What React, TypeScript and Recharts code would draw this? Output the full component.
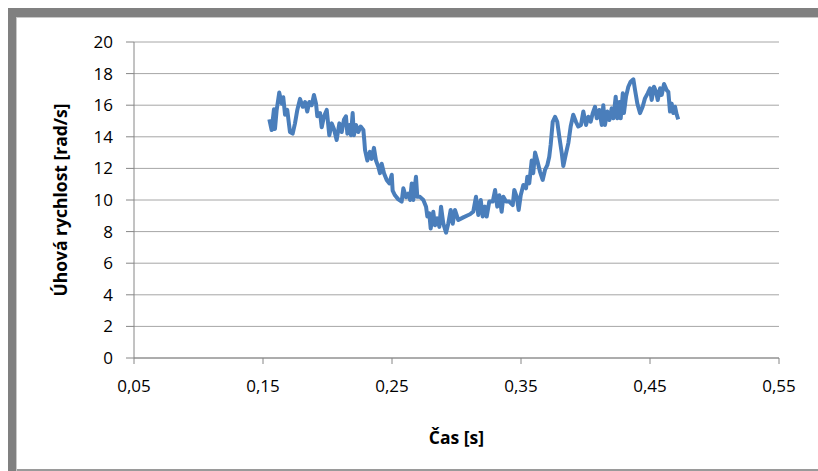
import React from 'react';
import { LineChart, Line, XAxis, YAxis, CartesianGrid, Label } from 'recharts';

// time [s]
const times: number[] = [
  0.1549, 0.1567, 0.1585, 0.1593, 0.1606, 0.1626, 0.1645, 0.1657, 0.1671, 0.1688,
  0.1709, 0.1730, 0.1748, 0.1766, 0.1787, 0.1808, 0.1826, 0.1843, 0.1859, 0.1878,
  0.1895, 0.1911, 0.1921, 0.1942, 0.1955, 0.1973, 0.1994, 0.2014, 0.2033, 0.2050,
  0.2071, 0.2092, 0.2110, 0.2128, 0.2143, 0.2154, 0.2169, 0.2182, 0.2195, 0.2205,
  0.2221, 0.2239, 0.2257, 0.2278, 0.2285, 0.2291, 0.2309, 0.2329, 0.2343, 0.2360,
  0.2376, 0.2394, 0.2407, 0.2420, 0.2438, 0.2459, 0.2479, 0.2498, 0.2505, 0.2523,
  0.2549, 0.2575, 0.2588, 0.2609, 0.2626, 0.2640, 0.2653, 0.2665, 0.2686, 0.2696,
  0.2717, 0.2743, 0.2764, 0.2774, 0.2789, 0.2800, 0.2820, 0.2833, 0.2851, 0.2867,
  0.2880, 0.2898, 0.2919, 0.2936, 0.2955, 0.2971, 0.2988, 0.3014, 0.3053, 0.3092,
  0.3105, 0.3130, 0.3151, 0.3169, 0.3188, 0.3203, 0.3221, 0.3234, 0.3254, 0.3281,
  0.3299, 0.3316, 0.3332, 0.3350, 0.3363, 0.3384, 0.3409, 0.3436, 0.3448, 0.3467,
  0.3482, 0.3498, 0.3518, 0.3539, 0.3549, 0.3564, 0.3583, 0.3595, 0.3609, 0.3626,
  0.3647, 0.3668, 0.3686, 0.3704, 0.3719, 0.3730, 0.3746, 0.3764, 0.3781, 0.3797,
  0.3816, 0.3828, 0.3849, 0.3867, 0.3885, 0.3905, 0.3926, 0.3944, 0.3965, 0.3983,
  0.4004, 0.4022, 0.4040, 0.4056, 0.4074, 0.4087, 0.4107, 0.4126, 0.4138, 0.4151,
  0.4169, 0.4185, 0.4203, 0.4216, 0.4234, 0.4247, 0.4262, 0.4273, 0.4289, 0.4298,
  0.4314, 0.4332, 0.4350, 0.4371, 0.4384, 0.4402, 0.4423, 0.4443, 0.4461, 0.4482,
  0.4500, 0.4513, 0.4531, 0.4547, 0.4560, 0.4578, 0.4591, 0.4609, 0.4629, 0.4642,
  0.4655, 0.4668, 0.4681, 0.4694, 0.4707, 0.4719,
];

// angular velocity [rad/s]
const speeds: number[] = [
  15.1, 14.43, 15.74, 14.5, 15.7, 16.8, 16.1, 16.5, 15.4, 15.7,
  14.3, 14.2, 14.85, 15.7, 16.4, 15.9, 16.2, 15.6, 16.2, 16.0,
  16.65, 16.1, 15.3, 15.5, 14.6, 15.3, 15.7, 14.1, 14.85, 14.5,
  13.8, 14.85, 14.3, 15.1, 15.3, 14.2, 14.75, 14.1, 15.5, 14.1,
  14.75, 14.3, 14.65, 14.43, 13.8, 13.16, 12.5, 13.05, 12.6, 13.3,
  12.5, 12.1, 11.7, 12.3, 11.7, 11.27, 11.05, 11.6, 10.6, 10.3,
  10.04, 9.9, 10.74, 10.17, 10.4, 10.0, 11.05, 10.0, 11.47, 10.2,
  10.2, 10.0, 9.58, 8.95, 9.16, 8.2, 9.26, 8.4, 8.84, 8.3,
  9.58, 8.5, 7.93, 8.5, 9.37, 8.5, 9.37, 8.73, 8.9, 9.05,
  9.1, 9.26, 10.2, 9.05, 10.0, 8.95, 9.58, 8.95, 9.9, 9.9,
  10.63, 9.58, 10.3, 9.26, 10.2, 9.9, 9.9, 9.68, 10.63, 10.2,
  9.37, 10.3, 10.95, 10.74, 11.47, 11.05, 12.5, 11.7, 13.0, 12.5,
  11.8, 11.27, 11.9, 12.2, 12.74, 13.5, 14.95, 15.27, 14.95, 14.0,
  12.96, 12.15, 12.96, 13.6, 14.65, 15.4, 14.95, 14.65, 14.75, 15.6,
  14.75, 15.27, 14.95, 15.5, 15.9, 15.17, 15.7, 14.75, 16.0, 14.75,
  15.6, 15.06, 15.8, 15.17, 16.54, 15.17, 16.2, 15.17, 16.75, 15.5,
  16.54, 17.17, 17.49, 17.64, 16.96, 16.1, 15.5, 15.9, 16.43, 16.75,
  17.07, 16.33, 17.17, 16.85, 16.33, 17.07, 16.65, 17.34, 16.96, 16.85,
  15.6, 16.1, 15.5, 15.9, 15.4, 15.1,
];

const xTicks: number[] = [0.05, 0.15, 0.25, 0.35, 0.45, 0.55];
const yTicks: number[] = [0, 2, 4, 6, 8, 10, 12, 14, 16, 18, 20];

const xTitle = 'Čas [s]';
const yTitle = 'Úhová rychlost [rad/s]';

const data = times.map((t, i) => ({ t, v: speeds[i] }));

const FONT = '"Open Sans", "Noto Sans", sans-serif';
const AXIS = '#868686';

const YTitle = (props: any) => {
  const vb = props.viewBox || {};
  const cx = vb.x + 36;
  const cy = vb.y + vb.height / 2;
  return (
    <text
      x={cx}
      y={cy}
      transform={`rotate(-90, ${cx}, ${cy})`}
      textAnchor="middle"
      dominantBaseline="central"
      fontFamily={FONT}
      fontWeight="bold"
      fontSize={17.5}
      fill="#000"
    >
      {yTitle}
    </text>
  );
};

const XTitle = (props: any) => {
  const vb = props.viewBox || {};
  const cx = vb.x + vb.width / 2;
  const cy = vb.y + 79;
  return (
    <text
      x={cx}
      y={cy}
      textAnchor="middle"
      dominantBaseline="central"
      fontFamily={FONT}
      fontWeight="bold"
      fontSize={17.5}
      fill="#000"
    >
      {xTitle}
    </text>
  );
};

export default function App() {
  return (
    <div
      style={{
        position: 'absolute',
        left: 0,
        top: 0,
        width: 818,
        height: 471,
        background: '#fff',
        overflow: 'hidden',
      }}
    >
      {/* frame */}
      <div style={{ position: 'absolute', left: 8, top: 8, width: 810, height: 9, background: '#808080' }} />
      <div style={{ position: 'absolute', left: 16, top: 17, width: 802, height: 1, background: '#c8c8c8' }} />
      <div style={{ position: 'absolute', left: 8, top: 8, width: 8, height: 463, background: '#808080' }} />
      <div style={{ position: 'absolute', left: 16, top: 17, width: 1, height: 454, background: '#c8c8c8' }} />
      <div style={{ position: 'absolute', left: 17, top: 469, width: 801, height: 2, background: '#9a9a9a' }} />
      <div style={{ position: 'absolute', left: 0, top: 0 }}>
        <LineChart
          width={818}
          height={471}
          data={data}
          margin={{ top: 42, right: 39, bottom: 13, left: 24 }}
        >
          <CartesianGrid horizontal vertical={false} stroke="#a6a6a6" strokeWidth={1} />
          <XAxis
            type="number"
            dataKey="t"
            domain={[0.05, 0.55]}
            ticks={xTicks}
            interval={0}
            height={100}
            stroke={AXIS}
            tickSize={6}
            tickMargin={16}
            tickLine={{ stroke: AXIS }}
            axisLine={{ stroke: AXIS }}
            tick={{ fill: '#000', fontFamily: FONT, fontSize: 17 }}
            tickFormatter={(v: number) => v.toFixed(2).replace('.', ',')}
          >
            <Label content={<XTitle />} />
          </XAxis>
          <YAxis
            type="number"
            domain={[0, 20]}
            ticks={yTicks}
            interval={0}
            width={110}
            stroke={AXIS}
            tickSize={8}
            tickMargin={13}
            tickLine={{ stroke: AXIS }}
            axisLine={{ stroke: AXIS }}
            tick={{ fill: '#000', fontFamily: FONT, fontSize: 17 }}
          >
            <Label content={<YTitle />} />
          </YAxis>
          <Line
            type="linear"
            dataKey="v"
            stroke="#4a7ebb"
            strokeWidth={4}
            dot={false}
            isAnimationActive={false}
            strokeLinejoin="round"
          />
        </LineChart>
      </div>
    </div>
  );
}
